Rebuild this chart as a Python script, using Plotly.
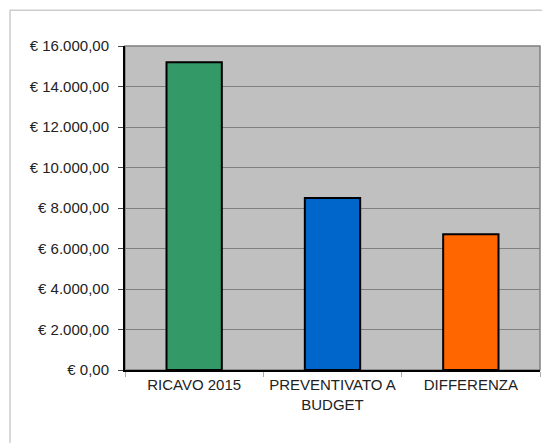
import plotly.graph_objects as go

categories = ["RICAVO 2015", "PREVENTIVATO A<br>BUDGET", "DIFFERENZA"]
values = [15200, 8500, 6700]
colors = ["#339966", "#0066CC", "#FF6600"]
tick_vals = [0, 2000, 4000, 6000, 8000, 10000, 12000, 14000, 16000]
tick_text = ["€ 0,00", "€ 2.000,00", "€ 4.000,00", "€ 6.000,00", "€ 8.000,00",
             "€ 10.000,00", "€ 12.000,00", "€ 14.000,00", "€ 16.000,00"]

fig = go.Figure(go.Bar(
    x=categories, y=values, width=0.4,
    marker=dict(color=colors, line=dict(color="#000000", width=2)),
))

font = dict(family="Liberation Sans, Arial, sans-serif", size=15, color="#222222")

fig.update_layout(
    width=542, height=443,
    margin=dict(l=125, r=2, t=46, b=73),
    paper_bgcolor="white", plot_bgcolor="#C0C0C0",
    showlegend=False, font=font,
    bargap=0.6,
    xaxis=dict(showline=True, linecolor="#000000", linewidth=2,
               ticks="outside", tickson="boundaries", ticklen=5, tickcolor="#aaaaaa",
               tickfont=font, showgrid=False),
    yaxis=dict(range=[0, 16000], tickvals=tick_vals, ticktext=tick_text,
               showline=True, linecolor="#000000", linewidth=2,
               ticks="outside", ticklen=5, tickcolor="#444444", ticklabelstandoff=6,
               gridcolor="#808080", gridwidth=1, tickfont=font, zeroline=False),
    shapes=[
        dict(type="rect", xref="paper", yref="paper", x0=0, x1=1, y0=0, y1=1,
             line=dict(color="#808080", width=1.5), layer="below"),
        dict(type="rect", xref="paper", yref="paper", x0=-0.277, x1=1.05, y0=-0.3, y1=1.11,
             line=dict(color="#cccccc", width=1.5), layer="below"),
    ],
)

fig.write_html("out.html", config={"displayModeBar": False},
               post_script="document.body.style.margin='0';document.body.style.overflow='hidden';")
